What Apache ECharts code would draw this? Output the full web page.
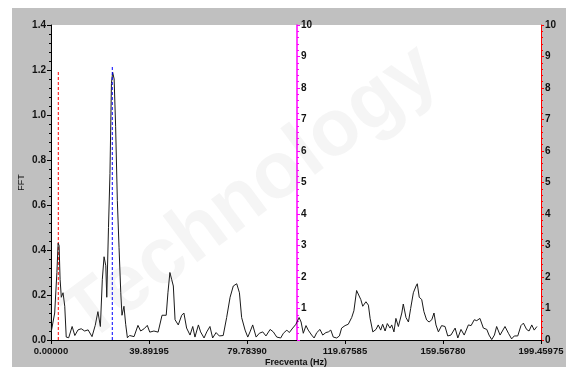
<!DOCTYPE html>
<html>
<head>
<meta charset="utf-8">
<script src="https://cdn.jsdelivr.net/npm/echarts@6/dist/echarts.min.js"></script>
<style>
  html, body { margin: 0; padding: 0; background: #fff; }
  #wrap { position: relative; width: 566px; height: 367px; }
  #panel { position: absolute; left: 12px; top: 8px; right: 0; bottom: 0; background: #c0c0c0; }
  #main { position: absolute; left: 0; top: 0; width: 566px; height: 367px; }
</style>
</head>
<body>
<div id="wrap">
  <div id="panel"></div>
  <div id="main"></div>
</div>
<script>
// frequency (Hz) and FFT amplitude
var freqHz = [
  0.1, 1.5, 2.4, 2.9, 3.3, 3.7, 4.2, 4.9, 5.6, 6.2, 7.2, 8.6, 9.7, 11.0, 12.3, 13.7, 15.1, 16.7, 18.0, 19.1,
  20.1, 20.9, 21.6, 22.3, 22.7, 23.4, 24.0, 24.6, 25.1, 25.7, 26.3, 27.0, 27.7, 28.4, 28.9, 29.7, 30.4, 31.1, 32.0, 33.8,
  35.4, 36.5, 37.9, 39.2, 40.2, 41.9, 43.6, 45.2, 46.9, 47.6, 48.4, 49.1, 49.8, 50.5, 51.8, 53.2, 54.1, 55.2, 56.6, 57.7,
  58.6, 60.0, 60.9, 62.3, 63.4, 64.7, 65.8, 67.2, 68.5, 70.1, 71.5, 72.9, 74.2, 75.6, 76.7, 77.6, 79.0, 80.1, 81.0, 82.1,
  83.5, 84.8, 86.2, 87.5, 89.2, 90.5, 91.9, 93.5, 94.6, 96.0, 97.0, 98.4, 99.7, 101.0, 101.8, 102.7, 103.8, 104.7, 106.1, 107.1,
  108.2, 109.5, 110.6, 111.9, 112.9, 113.9, 114.9, 116.3, 117.4, 118.3, 119.7, 121.0, 122.4, 123.3, 124.4, 125.1, 126.1, 126.9, 128.2, 129.2,
  129.9, 131.0, 132.3, 133.2, 134.2, 135.0, 136.0, 136.9, 138.0, 138.7, 139.6, 140.4, 141.4, 142.8, 143.4, 144.5, 145.5, 146.4, 147.5, 148.6,
  149.1, 149.9, 150.9, 151.8, 152.9, 153.9, 155.0, 155.9, 156.7, 157.7, 159.0, 160.4, 161.5, 162.8, 164.5, 165.6, 166.9, 168.2, 169.9, 171.0,
  172.3, 173.3, 174.6, 176.0, 177.4, 178.3, 179.4, 180.5, 181.4, 182.8, 184.8, 186.2, 187.5, 188.6, 190.0, 191.3, 192.3, 193.6, 194.6, 195.7,
  196.7, 197.8
];
var fftAmp = [
  0.037, 0.12, 0.30, 0.43, 0.42, 0.27, 0.19, 0.21, 0.15, 0.013, 0.01, 0.06, 0.02, 0.045, 0.05, 0.04, 0.045, 0.015, 0.065, 0.126,
  0.06, 0.27, 0.37, 0.33, 0.19, 0.50, 0.74, 1.14, 1.19, 1.16, 0.95, 0.62, 0.41, 0.21, 0.11, 0.15, 0.07, 0.01, 0.02, 0.015,
  0.065, 0.04, 0.05, 0.065, 0.035, 0.04, 0.035, 0.11, 0.11, 0.21, 0.30, 0.27, 0.24, 0.09, 0.067, 0.11, 0.12, 0.053, 0.022, 0.06,
  0.013, 0.067, 0.036, 0.009, 0.036, 0.06, 0.009, 0.033, 0.018, 0.02, 0.10, 0.19, 0.24, 0.25, 0.21, 0.10, 0.044, 0.013, 0.036, 0.067,
  0.013, 0.03, 0.036, 0.018, 0.047, 0.036, 0.013, 0.009, 0.03, 0.044, 0.033, 0.053, 0.07, 0.10, 0.08, 0.03, 0.064, 0.044, 0.022, 0.009,
  0.033, 0.047, 0.022, 0.033, 0.036, 0.044, 0.013, 0.009, 0.018, 0.053, 0.064, 0.07, 0.10, 0.13, 0.22, 0.215, 0.18, 0.15, 0.17, 0.155,
  0.096, 0.036, 0.047, 0.067, 0.044, 0.07, 0.04, 0.073, 0.053, 0.067, 0.036, 0.096, 0.06, 0.12, 0.16, 0.10, 0.08, 0.14, 0.21, 0.24,
  0.25, 0.19, 0.18, 0.126, 0.089, 0.08, 0.09, 0.12, 0.067, 0.036, 0.064, 0.06, 0.018, 0.022, 0.053, 0.009, 0.047, 0.022, 0.067, 0.064,
  0.09, 0.086, 0.096, 0.053, 0.047, 0.022, 0.002, 0.022, 0.06, 0.022, 0.06, 0.03, 0.005, 0.018, 0.018, 0.064, 0.075, 0.047, 0.04, 0.067,
  0.044, 0.06
];

// cursor markers (dashed vertical lines)
var redCursor = [2.97, 1.20];
var blueCursor = [24.95, 1.22];
var cursorHz = 100.1; // magenta axis position

var xMax = 199.45975;
var xStep = 39.89195;

var lbl = { fontFamily: '"Liberation Sans Narrow", "Liberation Sans", Arial', fontSize: 10, fontWeight: 'bold', color: '#111' };
var lblX = Object.assign({}, lbl, { fontSize: 9.5 });

var pts = [];
for (var i = 0; i < freqHz.length; i++) pts.push([freqHz[i], fftAmp[i]]);

var chart = echarts.init(document.getElementById('main'), null, { renderer: 'canvas' });

var plotLeft = 51, plotRight = 25;
var cursorPx = Math.round(plotLeft + (566 - plotLeft - plotRight) * cursorHz / xMax);

chart.setOption({
  backgroundColor: 'transparent',
  animation: false,
  graphic: [{
    type: 'text',
    left: 50, top: 30,
    rotation: 0.64,
    z: 100,
    silent: true,
    style: { text: 'Technology', fontSize: 80, fontFamily: 'Arial', fontWeight: 'bold', fill: 'rgba(120,120,120,0.07)' }
  }],
  grid: [
    { left: plotLeft, right: plotRight, top: 25, bottom: 27, show: true, backgroundColor: '#fff', borderWidth: 0, outerBoundsMode: 'none', containLabel: false },
    { left: cursorPx, right: plotRight, top: 25, bottom: 27, show: false, outerBoundsMode: 'none', containLabel: false }
  ],
  xAxis: [{
    type: 'value', gridIndex: 0,
    min: 0, max: xMax, interval: xStep,
    name: 'Frecventa (Hz)', nameLocation: 'middle', nameGap: 18, nameMoveOverlap: false,
    nameTextStyle: Object.assign({}, lblX, { fontSize: 9 }),
    axisLine: { lineStyle: { color: '#000', width: 1 } },
    axisTick: { length: 4, lineStyle: { color: '#000' } },
    axisLabel: Object.assign({ margin: 6, formatter: function (v) { return v.toFixed(5); } }, lblX),
    splitLine: { show: false }
  }, {
    type: 'value', gridIndex: 1, min: 0, max: 1, show: false
  }],
  yAxis: [{
    type: 'value', gridIndex: 0,
    min: 0, max: 1.4, interval: 0.2,
    name: 'FFT', nameLocation: 'middle', nameGap: 25, nameRotate: 90, nameMoveOverlap: false,
    nameTextStyle: Object.assign({}, lbl, { fontWeight: 'normal', fontSize: 9 }),
    axisLine: { show: true, lineStyle: { color: '#000', width: 1 } },
    axisTick: { show: true, length: 4, lineStyle: { color: '#000' } },
    minorTick: { show: true, splitNumber: 5, length: 2, lineStyle: { color: '#000' } },
    axisLabel: Object.assign({ margin: 5, formatter: function (v) { return v.toFixed(1); } }, lbl),
    splitLine: { show: false }
  }, {
    type: 'value', gridIndex: 0, position: 'right',
    min: 0, max: 10, interval: 1,
    axisLine: { show: true, lineStyle: { color: '#ff0000', width: 1 } },
    axisTick: { show: true, length: 3, lineStyle: { color: '#ff0000' } },
    minorTick: { show: true, splitNumber: 5, length: 2, lineStyle: { color: '#ff0000' } },
    axisLabel: Object.assign({ margin: 4 }, lbl),
    splitLine: { show: false }
  }, {
    type: 'value', gridIndex: 1, position: 'left',
    min: 0, max: 10, interval: 1,
    axisLine: { show: true, lineStyle: { color: '#ff00ff', width: 1.5 } },
    axisTick: { show: true, inside: true, length: 3, lineStyle: { color: '#ff00ff' } },
    minorTick: { show: true, splitNumber: 5, length: 2, lineStyle: { color: '#ff00ff' } },
    axisLabel: Object.assign({ inside: true, margin: 4, showMinLabel: false }, lbl),
    splitLine: { show: false }
  }],
  series: [{
    type: 'line', xAxisIndex: 0, yAxisIndex: 0,
    data: pts,
    symbol: 'none',
    lineStyle: { color: '#1a1a1a', width: 1 },
    z: 3
  }, {
    type: 'line', xAxisIndex: 0, yAxisIndex: 0,
    data: [[redCursor[0], 0], [redCursor[0], redCursor[1]]],
    symbol: 'none',
    lineStyle: { color: '#ff0000', width: 1, type: [3, 2] },
    z: 2
  }, {
    type: 'line', xAxisIndex: 0, yAxisIndex: 0,
    data: [[blueCursor[0], 0], [blueCursor[0], blueCursor[1]]],
    symbol: 'none',
    lineStyle: { color: '#0000ff', width: 1, type: [3, 2] },
    z: 4
  }]
});
</script>
</body>
</html>
